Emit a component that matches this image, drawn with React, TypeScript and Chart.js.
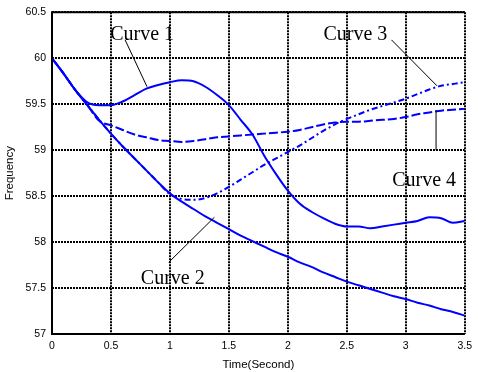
import { useEffect, useRef } from "react";
import { Chart, registerables } from "chart.js";

Chart.register(...registerables);

const times = [
  0, 0.1, 0.2, 0.3, 0.4, 0.5, 0.6, 0.7, 0.8, 0.9, 1.0, 1.1, 1.2, 1.3, 1.4, 1.5, 1.6, 1.7,
  1.8, 1.9, 2.0, 2.1, 2.2, 2.3, 2.4, 2.5, 2.6, 2.7, 2.8, 2.9, 3.0, 3.1, 3.2, 3.3, 3.4, 3.5,
];

const curve1 = [
  60.0, 59.83, 59.65, 59.52, 59.49, 59.49, 59.53, 59.6, 59.67, 59.71, 59.74, 59.76, 59.75,
  59.69, 59.6, 59.49, 59.33, 59.17, 58.94, 58.74, 58.56, 58.42, 58.33, 58.26, 58.2, 58.17,
  58.17, 58.15, 58.17, 58.19, 58.21, 58.23, 58.27, 58.26, 58.21, 58.23,
];

const curve2 = [
  60.0, 59.83, 59.65, 59.49, 59.33, 59.18, 59.04, 58.91, 58.78, 58.65, 58.53, 58.44, 58.36,
  58.28, 58.21, 58.14, 58.07, 58.01, 57.95, 57.89, 57.84, 57.78, 57.73, 57.67, 57.62, 57.57,
  57.53, 57.49, 57.45, 57.41, 57.38, 57.34, 57.31, 57.27, 57.24, 57.2,
];

const curve3 = [
  60.0, 59.83, 59.65, 59.49, 59.33, 59.18, 59.04, 58.91, 58.78, 58.65, 58.52, 58.47, 58.46,
  58.48, 58.53, 58.6, 58.68, 58.76, 58.84, 58.91, 58.98, 59.05, 59.13, 59.21, 59.28, 59.34,
  59.39, 59.44, 59.48, 59.52, 59.56, 59.61, 59.66, 59.7, 59.72, 59.74,
];

const curve4 = [
  60.0, 59.83, 59.65, 59.49, 59.32, 59.27, 59.22, 59.17, 59.14, 59.11, 59.1, 59.09, 59.1,
  59.12, 59.14, 59.15, 59.16, 59.17, 59.18, 59.19, 59.2, 59.22, 59.25, 59.28, 59.3, 59.31,
  59.31, 59.32, 59.33, 59.34, 59.36, 59.39, 59.41, 59.43, 59.44, 59.45,
];

// Annotation labels and leader lines (data coordinates)
const labelTexts = ["Curve 1", "Curve 2", "Curve 3", "Curve 4"];
const labelX = [0.764, 1.024, 2.573, 3.156];
const labelY = [60.255, 57.606, 60.255, 58.67];
const leaderFrom = [
  [0.62, 60.2],
  [0.99, 57.78],
  [2.879, 60.2],
  [3.257, 59.0],
];
const leaderTo = [
  [0.806, 59.69],
  [1.377, 58.27],
  [3.265, 59.7],
  [3.257, 59.436],
];

const toPoints = (vals: number[]) => vals.map((v, i) => ({ x: times[i], y: v }));
const fmt = (v: any) => String(Number(v));

const annotationPlugin = {
  id: "annotations",
  afterDatasetsDraw(chart: any) {
    const { ctx, scales, chartArea } = chart;
    const xs = scales.x;
    const ys = scales.y;
    ctx.save();
    ctx.strokeStyle = "#000";
    ctx.lineWidth = 1;
    ctx.setLineDash([]);
    for (let i = 0; i < leaderFrom.length; i++) {
      ctx.beginPath();
      ctx.moveTo(xs.getPixelForValue(leaderFrom[i][0]), ys.getPixelForValue(leaderFrom[i][1]));
      ctx.lineTo(xs.getPixelForValue(leaderTo[i][0]), ys.getPixelForValue(leaderTo[i][1]));
      ctx.stroke();
    }
    ctx.fillStyle = "#000";
    ctx.font = '20px "Liberation Serif", "Times New Roman", serif';
    ctx.textAlign = "center";
    ctx.textBaseline = "middle";
    for (let i = 0; i < labelTexts.length; i++) {
      ctx.fillText(labelTexts[i], xs.getPixelForValue(labelX[i]), ys.getPixelForValue(labelY[i]));
    }
    ctx.strokeStyle = "#000";
    ctx.lineWidth = 2;
    ctx.beginPath();
    ctx.moveTo(chartArea.right, chartArea.top);
    ctx.lineTo(chartArea.left, chartArea.top);
    ctx.lineTo(chartArea.left, chartArea.bottom);
    ctx.lineTo(chartArea.right, chartArea.bottom);
    ctx.stroke();
    ctx.restore();
  },
};

export default function App() {
  const canvasRef = useRef<HTMLCanvasElement | null>(null);

  useEffect(() => {
    if (!canvasRef.current) return;
    const blue = "#0000ff";
    const base = {
      borderColor: blue,
      backgroundColor: blue,
      borderWidth: 2,
      pointRadius: 0,
      fill: false,
      cubicInterpolationMode: "monotone" as const,
    };
    const tickFont = { family: '"Liberation Sans", Arial, sans-serif', size: 10.5 };
    const titleFont = { family: '"Liberation Sans", Arial, sans-serif', size: 11.5 };
    const chart = new Chart(canvasRef.current, {
      type: "line",
      data: {
        datasets: [
          { ...base, label: "Curve 1", data: toPoints(curve1) },
          { ...base, label: "Curve 2", data: toPoints(curve2) },
          { ...base, label: "Curve 3", data: toPoints(curve3), borderDash: [6, 3, 2, 3] },
          { ...base, label: "Curve 4", data: toPoints(curve4), borderDash: [9, 3] },
        ],
      },
      options: {
        animation: false,
        responsive: false,
        maintainAspectRatio: false,
        layout: { padding: { left: 0, top: 5, right: 9, bottom: 0 } },
        plugins: { legend: { display: false }, tooltip: { enabled: false } },
        scales: {
          x: {
            type: "linear",
            min: 0,
            max: 3.5,
            afterFit: (s: any) => {
              s.height = 38;
            },
            ticks: {
              stepSize: 0.5,
              color: "#000",
              padding: 6,
              maxRotation: 0,
              font: tickFont,
              callback: fmt,
            },
            grid: { color: "#000", lineWidth: 2, drawTicks: false },
            border: { display: false, dash: [2, 1] },
            title: {
              display: true,
              text: "Time(Second)",
              color: "#000",
              padding: { top: 2, bottom: 0 },
              font: titleFont,
            },
          },
          y: {
            type: "linear",
            min: 57,
            max: 60.5,
            afterFit: (s: any) => {
              s.width = 52;
            },
            ticks: {
              stepSize: 0.5,
              color: "#000",
              padding: 6,
              font: tickFont,
              callback: fmt,
            },
            grid: { color: "#000", lineWidth: 2, drawTicks: false },
            border: { display: false, dash: [2, 1] },
            title: {
              display: true,
              text: "Frequency",
              color: "#000",
              padding: { top: 3, bottom: 0 },
              font: titleFont,
            },
          },
        },
      },
      plugins: [annotationPlugin],
    });
    return () => chart.destroy();
  }, []);

  return (
    <div style={{ position: "fixed", left: 0, top: 0, width: 478, height: 372, background: "#fff" }}>
      <canvas ref={canvasRef} width={478} height={372} style={{ display: "block" }} />
    </div>
  );
}
